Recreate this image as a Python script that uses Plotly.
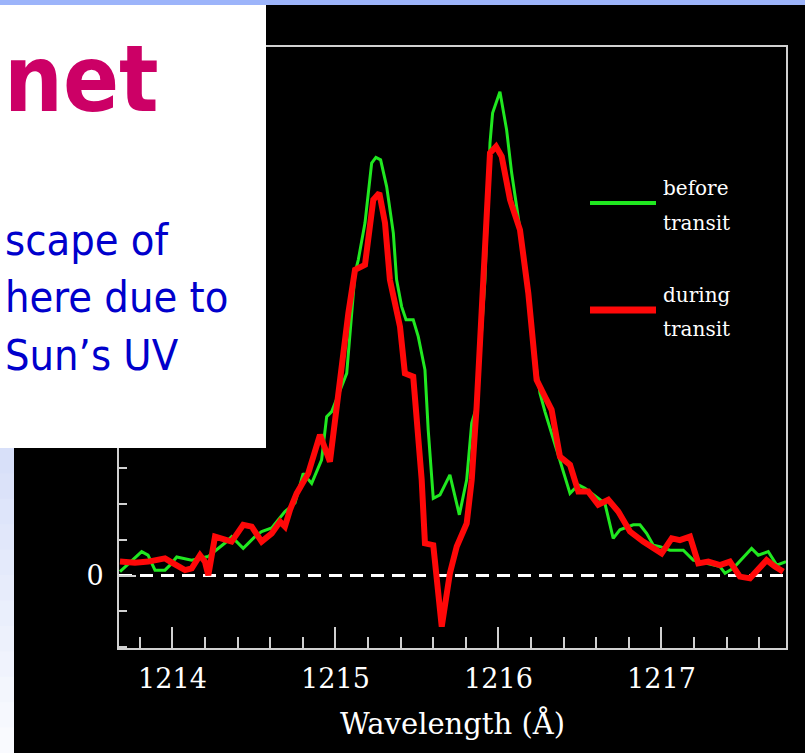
import plotly.graph_objects as go

# Lyman-alpha profile of the host star, flux in arbitrary units
GREEN_WL = [1213.678, 1213.811, 1213.850, 1213.893, 1213.954, 1213.985, 1214.026, 1214.118, 1214.218, 1214.322,
            1214.363, 1214.434, 1214.506, 1214.547, 1214.609, 1214.690, 1214.752, 1214.802, 1214.854, 1214.915,
            1214.946, 1214.977, 1215.069, 1215.099, 1215.120, 1215.140, 1215.181, 1215.222, 1215.248, 1215.277,
            1215.314, 1215.355, 1215.375, 1215.406, 1215.433, 1215.477, 1215.508, 1215.549, 1215.569, 1215.600,
            1215.641, 1215.702, 1215.760, 1215.805, 1215.836, 1215.866, 1215.917, 1215.948, 1215.964, 1216.009,
            1216.050, 1216.081, 1216.112, 1216.169, 1216.234, 1216.255, 1216.285, 1216.377, 1216.439, 1216.490,
            1216.531, 1216.653, 1216.704, 1216.745, 1216.827, 1216.868, 1216.909, 1216.950, 1216.991, 1217.052,
            1217.134, 1217.195, 1217.359, 1217.390, 1217.440, 1217.553, 1217.594, 1217.655, 1217.707, 1217.764]
GREEN_FLUX = [0.11, 0.67, 0.57, 0.15, 0.15, 0.29, 0.52, 0.43, 0.53, 0.91,
              1.09, 0.76, 1.09, 1.23, 1.33, 1.79, 2.03, 2.86, 2.58, 3.24,
              4.45, 4.59, 5.66, 7.25, 8.47, 8.84, 9.87, 11.55, 11.71, 11.64,
              10.89, 9.59, 8.28, 7.53, 7.16, 7.16, 6.69, 5.76, 4.08, 2.16,
              2.26, 2.82, 1.70, 2.68, 4.27, 4.73, 8.28, 12.11, 12.95, 13.55,
              12.48, 11.27, 10.33, 8.56, 5.76, 5.10, 4.59, 3.24, 2.30, 2.54,
              2.44, 2.02, 1.04, 1.28, 1.42, 1.42, 1.18, 0.85, 0.81, 0.71,
              0.71, 0.43, 0.25, 0.06, 0.20, 0.76, 0.57, 0.67, 0.29, 0.39]

RED_WL = [1213.678, 1213.770, 1213.852, 1213.954, 1214.005, 1214.077, 1214.118, 1214.169, 1214.199, 1214.220,
          1214.261, 1214.302, 1214.363, 1214.434, 1214.486, 1214.547, 1214.609, 1214.660, 1214.690, 1214.721,
          1214.762, 1214.833, 1214.905, 1214.966, 1215.028, 1215.079, 1215.120, 1215.181, 1215.232, 1215.269,
          1215.304, 1215.334, 1215.396, 1215.426, 1215.477, 1215.508, 1215.529, 1215.549, 1215.600, 1215.652,
          1215.702, 1215.744, 1215.805, 1215.836, 1215.866, 1215.907, 1215.948, 1215.985, 1216.020, 1216.071,
          1216.132, 1216.183, 1216.234, 1216.285, 1216.326, 1216.377, 1216.439, 1216.490, 1216.551, 1216.612,
          1216.674, 1216.735, 1216.807, 1216.888, 1217.001, 1217.063, 1217.113, 1217.175, 1217.226, 1217.287,
          1217.359, 1217.420, 1217.481, 1217.543, 1217.645, 1217.696, 1217.747]
RED_FLUX = [0.39, 0.36, 0.39, 0.48, 0.34, 0.15, 0.20, 0.57, 0.39, 0.01,
            1.09, 1.04, 0.95, 1.42, 1.37, 0.95, 1.18, 1.51, 1.37, 1.84,
            2.30, 2.86, 3.94, 3.19, 5.66, 7.35, 8.56, 8.70, 10.52, 10.71,
            9.87, 8.28, 6.97, 5.66, 5.57, 3.80, 2.68, 0.90, 0.85, -1.43,
            0.06, 0.81, 1.46, 2.68, 4.73, 8.28, 11.83, 12.01, 11.73, 10.52,
            9.68, 7.91, 5.48, 5.01, 4.64, 3.33, 3.10, 2.35, 2.35, 1.98,
            2.12, 1.79, 1.23, 0.95, 0.62, 1.04, 0.99, 1.09, 0.34, 0.39,
            0.29, 0.39, -0.03, -0.08, 0.43, 0.25, 0.11]

X_TICKS = [1214, 1215, 1216, 1217]
Y_TICKS = [0]
Y_MINOR = [-2, -1, 1, 2, 3, 4, 5, 6, 7, 8, 9, 10, 11, 12, 13, 14]
X_RANGE = [1213.672, 1217.764]
Y_RANGE = [-2.03, 14.80]

W, H = 805, 753
ML, MR, MT, MB = 119, 19, 47, 105
PW, PH = W - ML - MR, H - MT - MB


def fx(p):
    return (p - ML) / PW


def fy(p):
    return (H - MB - p) / PH


AXIS_COL = "#d0d0d0"
SERIF = "DejaVu Serif, Liberation Serif, serif"
SANS = "DejaVu Sans Condensed, DejaVu Sans, sans-serif"
GREEN = "#20e820"
RED = "#ff0808"

fig = go.Figure()
fig.add_trace(go.Scatter(x=GREEN_WL, y=GREEN_FLUX, mode="lines", name="before transit",
                         line=dict(color=GREEN, width=3)))
fig.add_trace(go.Scatter(x=RED_WL, y=RED_FLUX, mode="lines", name="during transit",
                         line=dict(color=RED, width=6)))

shapes = []
# zero level
shapes.append(dict(type="line", xref="paper", yref="y", x0=0, x1=1, y0=0, y1=0, layer="below",
                   line=dict(color="white", width=3, dash="13px,8px")))
# legend keys
shapes.append(dict(type="line", xref="paper", yref="paper", x0=fx(590), x1=fx(656), y0=fy(203), y1=fy(203),
                   line=dict(color=GREEN, width=4)))
shapes.append(dict(type="line", xref="paper", yref="paper", x0=fx(590), x1=fx(656), y0=fy(310), y1=fy(310),
                   line=dict(color=RED, width=7)))
# slide elements around the plot: pale side strip, text panel, top bar
strip_cols = ["#d8e0f9", "#dbe2f9", "#dee5fa", "#e1e7fa", "#e4eafb", "#e7ecfb", "#eaeffc",
              "#edf1fc", "#f0f3fd", "#f3f6fd", "#f6f8fe", "#f9fafe"]
band = (753 - 448) / len(strip_cols)
for i, c in enumerate(strip_cols):
    shapes.append(dict(type="rect", xref="paper", yref="paper", x0=fx(0), x1=fx(14),
                       y0=fy(min(753, 448 + band * (i + 1) + 4)), y1=fy(448 + band * i),
                       fillcolor=c, line=dict(width=0), layer="above"))
shapes.append(dict(type="rect", xref="paper", yref="paper", x0=fx(0), x1=fx(266), y0=fy(448), y1=fy(5),
                   fillcolor="white", line=dict(width=0), layer="above"))
shapes.append(dict(type="rect", xref="paper", yref="paper", x0=fx(0), x1=fx(805), y0=fy(5), y1=fy(0),
                   fillcolor="#9cb4fa", line=dict(width=0), layer="above"))

annotations = []
legend_txt = [("before", 188), ("transit", 223), ("during", 295), ("transit", 329)]
for t, yy in legend_txt:
    annotations.append(dict(text=t, xref="paper", yref="paper", x=fx(662), y=fy(yy), xanchor="left",
                            yanchor="middle", showarrow=False, borderpad=0,
                            font=dict(family=SERIF, size=20, color="white")))

annotations.append(dict(text="<b>net</b>", xref="paper", yref="paper", x=fx(160), y=fy(80),
                        xanchor="right", yanchor="middle", showarrow=False, borderpad=0,
                        font=dict(family=SANS, size=92, color="#cc0066")))
body = [("scape of", 240), ("here due to", 297), ("Sun’s UV", 355)]
for t, yy in body:
    annotations.append(dict(text=t, xref="paper", yref="paper", x=fx(4), y=fy(yy),
                            xanchor="left", yanchor="middle", showarrow=False, borderpad=0,
                            font=dict(family=SANS, size=43, color="#0000cc")))

fig.update_layout(
    width=W, height=H,
    margin=dict(l=ML, r=MR, t=MT, b=MB, pad=0),
    paper_bgcolor="black", plot_bgcolor="black",
    showlegend=False,
    shapes=shapes, annotations=annotations,
    xaxis=dict(range=X_RANGE, showgrid=False, zeroline=False,
               showline=True, linecolor=AXIS_COL, linewidth=2, mirror=True,
               tickmode="array", tickvals=X_TICKS, ticktext=[str(v) for v in X_TICKS],
               ticks="inside", ticklen=21, tickwidth=2, tickcolor=AXIS_COL, ticklabelstandoff=6,
               tickfont=dict(family=SERIF, size=27, color="white"),
               minor=dict(dtick=0.2, tick0=1213.8, ticks="inside", ticklen=11, tickwidth=2, tickcolor=AXIS_COL),
               title=dict(text="Wavelength (Å)", font=dict(family=SERIF, size=29, color="white"), standoff=20)),
    yaxis=dict(range=Y_RANGE, showgrid=False, zeroline=False,
               showline=True, linecolor=AXIS_COL, linewidth=2, mirror=True,
               tickmode="array", tickvals=Y_TICKS, ticktext=[str(v) for v in Y_TICKS],
               ticks="inside", ticklen=17, tickwidth=2, tickcolor=AXIS_COL, ticklabelstandoff=8,
               tickfont=dict(family=SERIF, size=27, color="white"),
               minor=dict(tickmode="array", tickvals=Y_MINOR, ticks="inside", ticklen=8, tickwidth=2,
                          tickcolor=AXIS_COL)),
)

fig.write_html("out.html", config={"displayModeBar": False})
